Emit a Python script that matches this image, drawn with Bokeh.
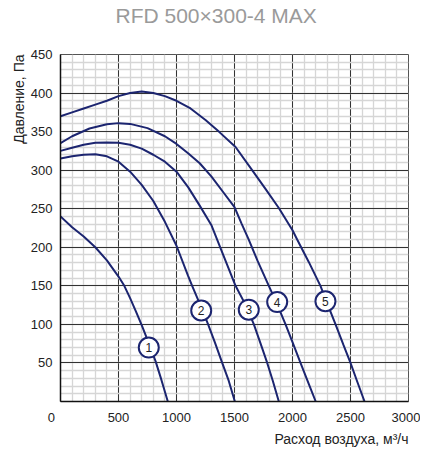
from bokeh.plotting import figure
from bokeh.models import FixedTicker, Title, Range1d, ColumnDataSource
from bokeh.embed import file_html
from bokeh.resources import INLINE
from bokeh.core.properties import value

# ---- data ----
x1 = [0, 100, 200, 300, 400, 500, 550, 600, 650, 700, 770, 820, 870, 925]
y1 = [240, 226, 214, 200, 183, 162, 150, 134, 117, 99, 72, 52, 28, 0]

x2 = [0, 100, 200, 300, 400, 500, 600, 700, 800, 900, 1000, 1100, 1135, 1200, 1270, 1330, 1394, 1450, 1503]
y2 = [315, 318, 320, 320.5, 318, 311, 298, 281, 260, 233, 202, 163, 150, 127, 101, 77, 50, 27, 0]

x3 = [0, 100, 200, 300, 400, 500, 600, 700, 800, 900, 1000, 1100, 1200, 1300, 1400, 1509, 1600, 1667, 1725, 1782, 1830, 1882]
y3 = [325, 329, 333, 335.5, 336, 335.5, 333, 328, 320, 311, 298, 278, 254, 229, 191, 150, 124, 100, 75, 50, 27, 0]

x4 = [0, 100, 250, 400, 500, 600, 750, 900, 1000, 1100, 1200, 1300, 1400, 1500, 1560, 1620, 1700, 1796, 1868, 1940, 2000, 2069, 2140, 2200]
y4 = [335, 344, 354, 359.5, 361, 360, 354.5, 344, 334, 322, 309, 292, 272, 252, 231, 211, 182, 150, 126, 100, 77, 50, 23, 0]

x5 = [0, 100, 200, 300, 400, 500, 600, 700, 800, 900, 1000, 1121, 1250, 1365, 1509, 1652, 1770, 1882, 2000, 2040, 2140, 2241, 2300, 2371, 2440, 2500, 2560, 2621]
y5 = [370, 375, 380, 385, 390, 396, 400, 402, 400, 396, 390, 380, 365, 350, 330, 300, 275, 251, 222, 210, 181, 150, 127, 100, 73, 50, 25, 0]

label_x = [761, 1213, 1623, 1868, 2284]
label_y = [70, 118, 119, 129, 130]
label_text = ["1", "2", "3", "4", "5"]

x_ticks = [0, 500, 1000, 1500, 2000, 2500, 3000]
y_ticks = [50, 100, 150, 200, 250, 300, 350, 400, 450]
x_minor = list(range(0, 3001, 100))
y_minor = list(range(0, 451, 10))

title_text = "RFD 500×300-4 MAX"
x_label = "Расход воздуха, м³/ч"
y_label = "Давление, Па"

FONT = "Liberation Sans"
NAVY = "#1c2570"
TXT = "#222222"

p = figure(width=420, height=448, output_backend="svg", toolbar_location=None,
           x_range=Range1d(0, 3000), y_range=Range1d(0, 450),
           min_border_left=60, min_border_right=12, min_border_top=54, min_border_bottom=46)

# spacer panel right above the frame, then the chart title above it
p.add_layout(Title(text=" ", text_font=FONT, text_font_size="13px", standoff=9), "above")
p.add_layout(Title(text=title_text, align="left", offset=55, vertical_align="top", standoff=0,
                   text_font=FONT, text_font_size="21px", text_font_style="normal",
                   text_color="#9a9a9a"), "above")

p.xaxis.ticker = FixedTicker(ticks=x_ticks, minor_ticks=x_minor)
p.yaxis.ticker = FixedTicker(ticks=y_ticks, minor_ticks=y_minor)
# the reference sets its "0" a little left of the origin
p.xaxis.major_label_overrides = {0: "0\u00a0\u00a0\u00a0\u00a0\u00a0"}
for ax in (p.xaxis[0], p.yaxis[0]):
    ax.major_tick_out = 0
    ax.major_tick_in = 0
    ax.minor_tick_out = 0
    ax.minor_tick_in = 0
    ax.axis_line_color = "#111111"
    ax.axis_line_width = 1.5
    ax.major_label_standoff = 8
    ax.major_label_text_font = FONT
    ax.major_label_text_font_size = "13px"
    ax.major_label_text_color = TXT

p.xgrid.grid_line_color = "#333333"
p.ygrid.grid_line_color = "#333333"
p.xgrid.minor_grid_line_color = "#d6d6d6"
p.ygrid.minor_grid_line_color = "#d6d6d6"
p.xgrid.minor_grid_line_width = 1.3
p.ygrid.minor_grid_line_width = 1.3
p.outline_line_color = "#555555"
p.outline_line_width = 1

p.add_layout(Title(text=x_label, align="right", standoff=3, text_font=FONT,
                   text_font_size="14px", text_font_style="normal", text_color=TXT), "below")
p.add_layout(Title(text=y_label, align="right", standoff=2, text_font=FONT,
                   text_font_size="14px", text_font_style="normal", text_color=TXT), "left")

for xs, ys in ((x1, y1), (x2, y2), (x3, y3), (x4, y4), (x5, y5)):
    p.line(xs, ys, line_color=NAVY, line_width=2)

src = ColumnDataSource(dict(x=label_x, y=label_y, t=label_text))
p.scatter("x", "y", source=src, marker="circle", size=20, fill_color="white",
          line_color=NAVY, line_width=2)
p.text("x", "y", text="t", source=src, text_align="center", text_baseline="middle",
       text_font=value(FONT), text_font_size="12px", text_color=TXT)

open("out.html", "w").write(file_html(p, INLINE))
